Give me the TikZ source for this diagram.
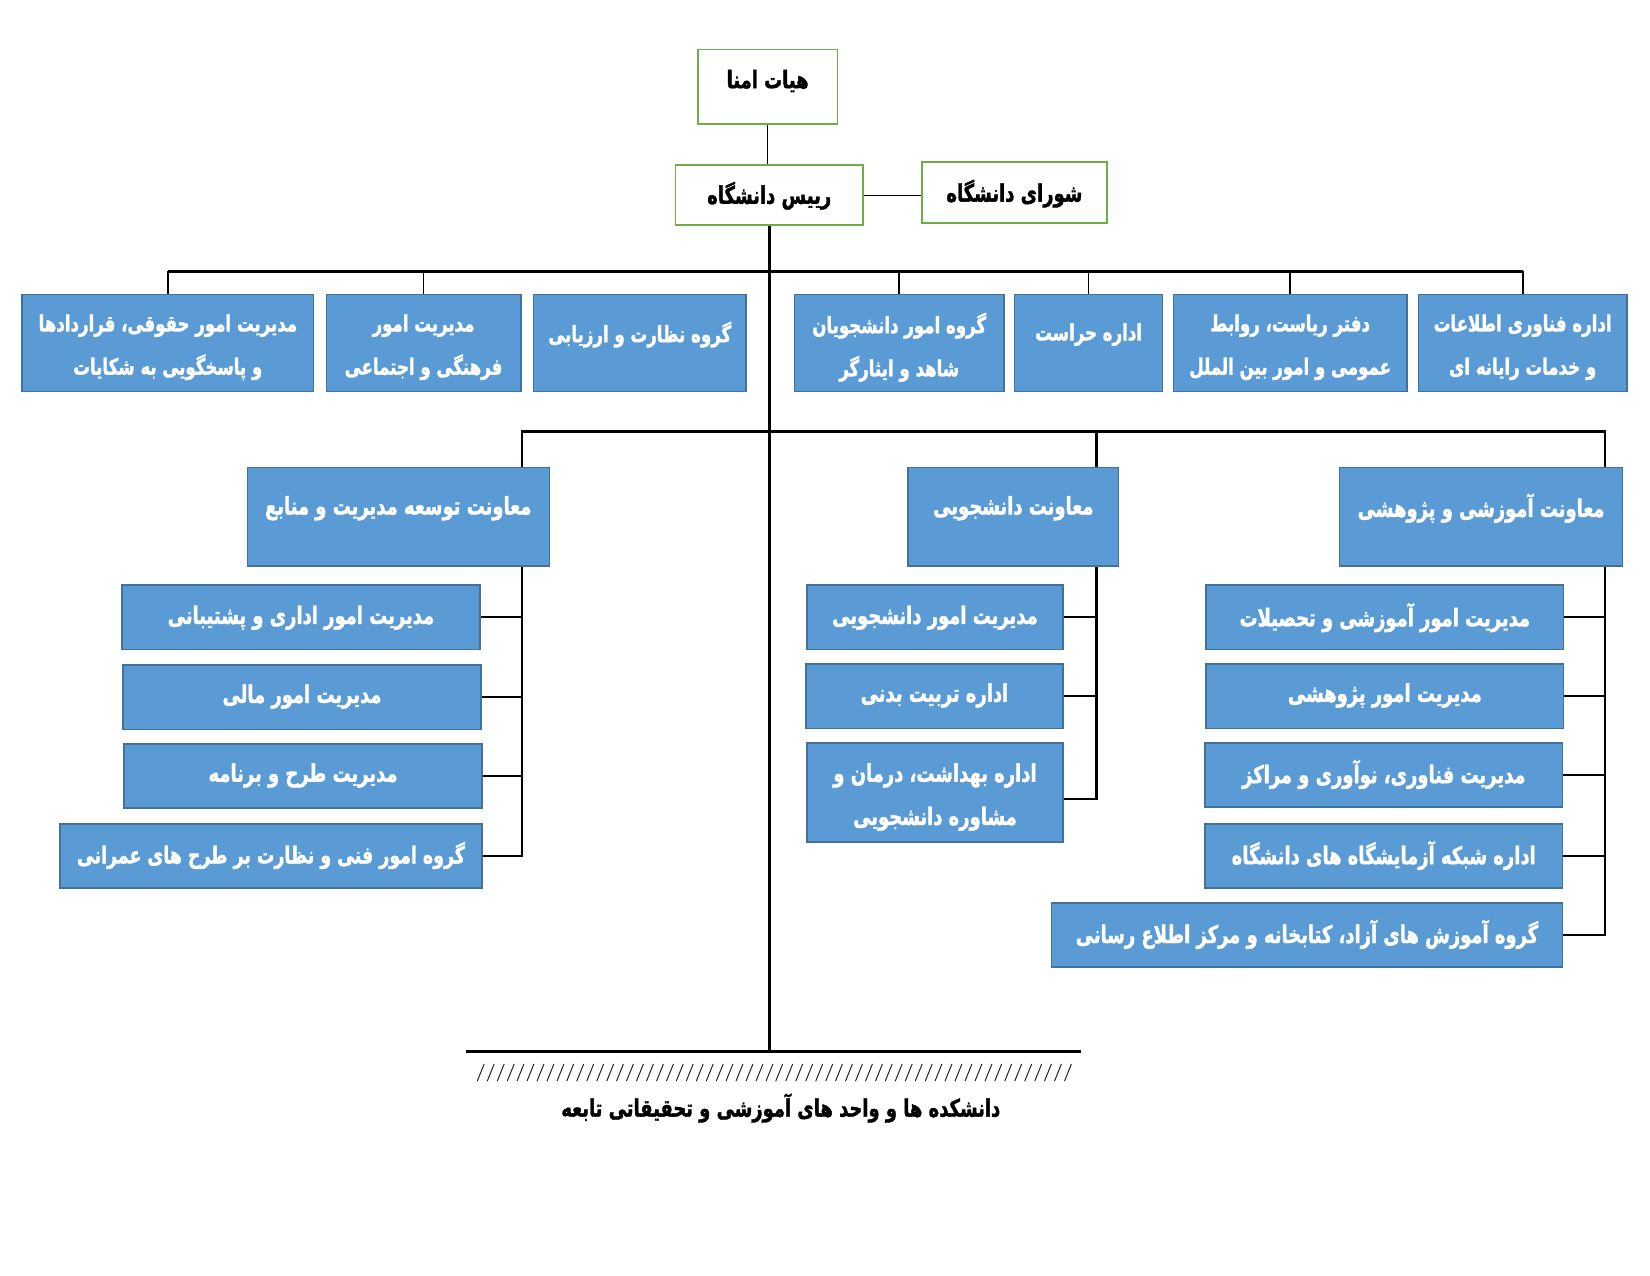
\documentclass[tikz,border=0pt]{standalone}
\usepackage{fontspec}
\usetikzlibrary{backgrounds}
\TeXXeTstate=1
\newfontfamily\fa[Script=Arabic,FakeStretch=0.74,FakeBold=1.5]{DejaVu Sans}
\newcommand{\rl}[1]{\beginR#1\endR}
\definecolor{boxblue}{HTML}{5B9BD5}
\definecolor{boxedge}{HTML}{41719C}
\definecolor{boxgreen}{HTML}{70AD47}
\begin{document}
\begin{tikzpicture}[x=1pt,y=-1pt,
  bbox/.style={rectangle, fill=boxblue, draw=boxedge, line width=1.3pt, inner sep=0pt},
  gbox/.style={rectangle, fill=white, draw=boxgreen, line width=1.6pt, inner sep=0pt},
  wtext/.style={text=white, font=\fa\bfseries\fontsize{23}{41}\selectfont, align=center, inner sep=0pt},
  rowtext/.style={text=white, font=\fa\bfseries\fontsize{21.3}{41}\selectfont, align=center, inner sep=0pt},
  ktext/.style={text=black, font=\fa\bfseries\fontsize{23}{41}\selectfont, align=center, inner sep=0pt},
  bar/.style={line width=2.8pt},
  drop/.style={line width=1.6pt},
  spine/.style={line width=2.2pt, line cap=rect},
  thinline/.style={line width=0.9pt}]
\useasboundingbox (0,0) rectangle (1568,1212);

% top
\node[gbox, minimum width=133pt, minimum height=71pt] (hiat) at (729.5,82.5) {};
\node[ktext] at (729.5,77) {\rl{هیات امنا}};
\node[gbox, minimum width=178pt, minimum height=57pt] (raees) at (731,185.5) {};
\node[ktext] at (731,186) {\rl{رییس دانشگاه}};
\node[gbox, minimum width=176pt, minimum height=58pt] (shora) at (964,183) {};
\node[ktext] at (964,184) {\rl{شورای دانشگاه}};

% row 1
\node[bbox, minimum width=277pt, minimum height=92pt] (b1) at (159.5,326) {};
\node[rowtext] at (159.5,330) {\rl{مدیریت امور حقوقی، قراردادها}\\\rl{و پاسخگویی به شکایات}};
\node[bbox, minimum width=185pt, minimum height=92pt] (b2) at (402.5,326) {};
\node[rowtext] at (402.5,330) {\rl{مدیریت امور}\\\rl{فرهنگی و اجتماعی}};
\node[bbox, minimum width=202pt, minimum height=92pt] (b3) at (608,326) {};
\node[rowtext] at (608,318) {\rl{گروه نظارت و ارزیابی}};
\node[bbox, minimum width=199pt, minimum height=92pt] (b4) at (854.5,326) {};
\node[rowtext] at (854.5,330) {\rl{گروه امور دانشجویان}\\\rl{شاهد و ایثارگر}};
\node[bbox, minimum width=141pt, minimum height=92pt] (b5) at (1034.5,326) {};
\node[rowtext] at (1034.5,318) {\rl{اداره حراست}};
\node[bbox, minimum width=222pt, minimum height=92pt] (b6) at (1226,326) {};
\node[rowtext] at (1226,330) {\rl{دفتر ریاست، روابط}\\\rl{عمومی و امور بین الملل}};
\node[bbox, minimum width=198pt, minimum height=92pt] (b7) at (1447,326) {};
\node[rowtext] at (1447,330) {\rl{اداره فناوری اطلاعات}\\\rl{و خدمات رایانه ای}};

% deputies
\node[bbox, minimum width=287pt, minimum height=94pt] (dev) at (378.5,491) {};
\node[wtext] at (378.5,483) {\rl{معاونت توسعه مدیریت و منابع}};
\node[bbox, minimum width=200pt, minimum height=94pt] (stu) at (963,491) {};
\node[wtext] at (963,483) {\rl{معاونت دانشجویی}};
\node[bbox, minimum width=269pt, minimum height=94pt] (edu) at (1407.5,491) {};
\node[wtext] at (1407.5,483) {\rl{معاونت آموزشی و پژوهشی}};

% left children
\node[bbox, minimum width=340pt, minimum height=61pt] (l1) at (286,586.5) {};
\node[wtext] at (286,587) {\rl{مدیریت امور اداری و پشتیبانی}};
\node[bbox, minimum width=340pt, minimum height=61pt] (l2) at (287,662.5) {};
\node[wtext] at (287,662) {\rl{مدیریت امور مالی}};
\node[bbox, minimum width=340pt, minimum height=61pt] (l3) at (288,737.5) {};
\node[wtext] at (288,737) {\rl{مدیریت طرح و برنامه}};
\node[bbox, minimum width=401pt, minimum height=61pt] (l4) at (257.5,813.5) {};
\node[wtext, font=\fa\bfseries\fontsize{22.3}{41}\selectfont] at (257.5,813) {\rl{گروه امور فنی و نظارت بر طرح های عمرانی}};

% middle children
\node[bbox, minimum width=243pt, minimum height=61pt] (m1) at (888.5,586.5) {};
\node[wtext] at (888.5,587) {\rl{مدیریت امور  دانشجویی}};
\node[bbox, minimum width=244pt, minimum height=61pt] (m2) at (888,661.5) {};
\node[wtext] at (888,661) {\rl{اداره تربیت بدنی}};
\node[bbox, minimum width=243pt, minimum height=94pt] (m3) at (888.5,753) {};
\node[wtext] at (888.5,757.5) {\rl{اداره بهداشت، درمان و}\\\rl{مشاوره دانشجویی}};

% right children
\node[bbox, minimum width=340pt, minimum height=61pt] (r1) at (1316,586.5) {};
\node[wtext] at (1316,587) {\rl{مدیریت امور آموزشی و تحصیلات}};
\node[bbox, minimum width=340pt, minimum height=61pt] (r2) at (1316,661.5) {};
\node[wtext] at (1316,661) {\rl{مدیریت امور پژوهشی}};
\node[bbox, minimum width=340pt, minimum height=61pt] (r3) at (1315,736.5) {};
\node[wtext] at (1315,736) {\rl{مدیریت فناوری، نوآوری و مراکز}};
\node[bbox, minimum width=340pt, minimum height=61pt] (r4) at (1315,813.5) {};
\node[wtext] at (1315,813) {\rl{اداره شبکه آزمایشگاه های دانشگاه}};
\node[bbox, minimum width=486pt, minimum height=61pt] (r5) at (1242,888.5) {};
\node[wtext] at (1242,888) {\rl{گروه آموزش های آزاد، کتابخانه  و مرکز اطلاع رسانی}};

% bottom
\coordinate (botL) at (443,999);
\coordinate (botR) at (1027,999);
\node[font=\bfseries\fontsize{16.8}{20}\selectfont, inner sep=0pt] (slashes) at (736,1020) {////////////////////////////////////////////////////////////};
\node[ktext] (faculties) at (742,1053) {\rl{دانشکده ها و واحد های آموزشی و تحقیقاتی تابعه}};

\coordinate (sL) at (496,410);
\coordinate (sM) at (1042,410);
\coordinate (sR) at (1525,410);
\coordinate (m3c) at (1010,759);

\begin{pgfonlayer}{background}
\draw[thinline] (hiat.south) -- (hiat.south |- raees.north);
\draw[thinline] (raees.east) -- (raees.east -| shora.west);
\draw[bar] (raees.south) -- (raees.south |- botL);
\draw[bar] (botL) -- (botR);
\draw[bar] (b1.north |- 0,258) -- (b7.north |- 0,258);
\foreach \n in {b1,b2,b4,b5,b6,b7} \draw[drop] (\n.north) -- (\n.north |- 0,258);
\draw[bar] (sL) -- (sR);
\draw[spine] (sL) -- (sL |- l4.east);
\draw[spine] (sM) -- (sM |- m3c);
\draw[spine] (sR) -- (sR |- r5.east);
\foreach \n in {l1,l2,l3,l4} \draw[spine] (\n.east) -- (\n.east -| sL);
\foreach \n in {m1,m2} \draw[spine] (\n.east) -- (\n.east -| sM);
\draw[spine] (m3c) -- (m3c -| sM);
\foreach \n in {r1,r2,r3,r4,r5} \draw[spine] (\n.east) -- (\n.east -| sR);
\end{pgfonlayer}
\end{tikzpicture}
\end{document}
